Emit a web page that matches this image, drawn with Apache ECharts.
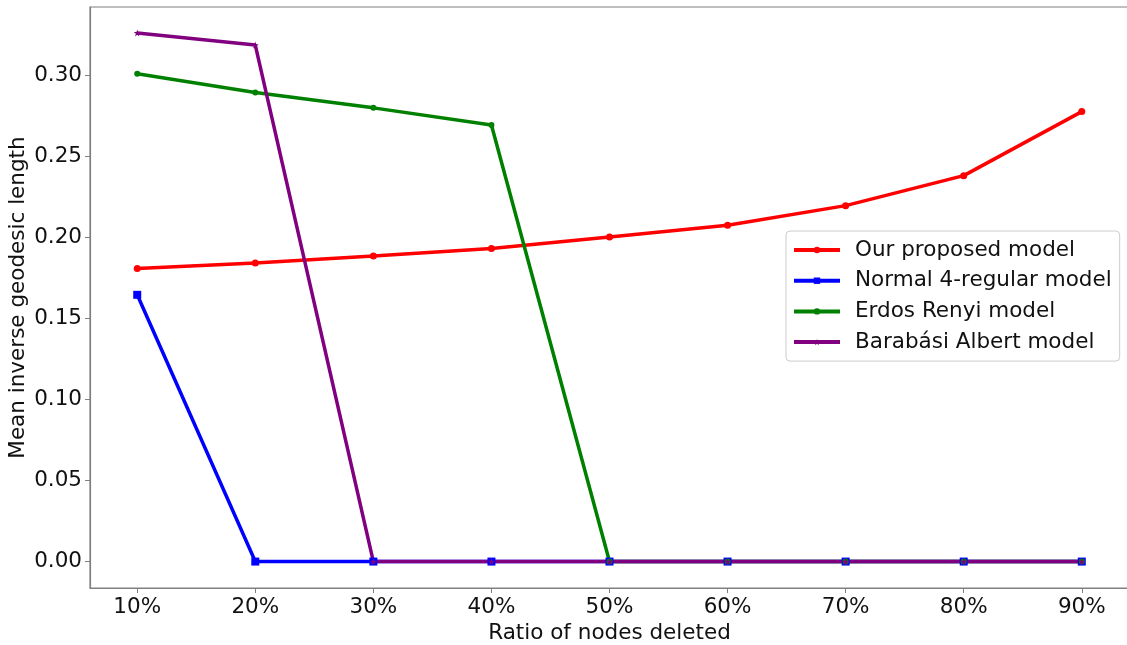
<!DOCTYPE html>
<html><head><meta charset="utf-8">
<script src="https://cdn.jsdelivr.net/npm/echarts@6/dist/echarts.min.js"></script>
<style>html,body{margin:0;padding:0;background:#fff}#c{width:1127px;height:645px}</style>
</head><body><div id="c"></div>
<script>
const ratios = [10, 20, 30, 40, 50, 60, 70, 80, 90];
const ourModel = [0.1808, 0.1842, 0.1885, 0.1930, 0.2002, 0.2074, 0.2195, 0.2380, 0.2775];
const regular4 = [0.1645, 0, 0, 0, 0, 0, 0, 0, 0];
const erdosRenyi = [0.3008, 0.2893, 0.2798, 0.2692, 0, 0, 0, 0, 0];
const barabasi = [0.3260, 0.3185, 0, 0, 0, 0, 0, 0, 0];
const yTicks = [0, 0.05, 0.10, 0.15, 0.20, 0.25, 0.30];
const names = ['Our proposed model', 'Normal 4-regular model', 'Erdos Renyi model', 'Barabási Albert model'];

const F = 'DejaVu Sans';
const pairs = arr => ratios.map((r, i) => [r, arr[i]]);
function mk(name, arr, color, symbol, size) {
  return {
    name, type: 'line', data: pairs(arr), symbol, symbolSize: size,
    showSymbol: true, animation: false,
    lineStyle: { color, width: 3.5 }, itemStyle: { color, borderWidth: 0 },
    emphasis: { disabled: true }, z: 3
  };
}
const chart = echarts.init(document.getElementById('c'), null, { renderer: 'canvas' });
chart.setOption({
  animation: false,
  grid: { left: 90, top: 7, width: 1039, height: 581, outerBoundsMode: 'none', containLabel: false,
          show: true, borderColor: '#808080', borderWidth: 1.2, backgroundColor: 'transparent' },
  legend: {
    orient: 'vertical', left: 786, top: 231, data: names,
    itemWidth: 46, itemHeight: 8, itemGap: 8.7,
    padding: [8, 8, 8, 6],
    borderColor: '#cccccc', borderWidth: 1, borderRadius: 4, backgroundColor: '#fff',
    lineStyle: { width: 4 },
    textStyle: { fontFamily: F, fontSize: 21.5, color: '#111', padding: [0, 0, 0, 10] }
  },
  xAxis: {
    type: 'value', min: 6, max: 94, name: 'Ratio of nodes deleted', nameLocation: 'middle', nameGap: 34,
    nameMoveOverlap: false,
    nameTextStyle: { fontFamily: F, fontSize: 21.5, color: '#111' },
    axisLine: { show: true, onZero: false, lineStyle: { color: '#808080', width: 1.2 } },
    axisTick: { show: true, length: 5, lineStyle: { color: '#808080' }, customValues: ratios },
    axisLabel: { fontFamily: F, fontSize: 21.5, color: '#111', margin: 8, customValues: ratios, formatter: v => v + '%' },
    splitLine: { show: false }
  },
  yAxis: {
    type: 'value', min: -0.0163, max: 0.342, name: 'Mean inverse geodesic length', nameLocation: 'middle', nameGap: 61,
    nameMoveOverlap: false,
    nameTextStyle: { fontFamily: F, fontSize: 21.5, color: '#111' },
    axisLine: { show: true, onZero: false, lineStyle: { color: '#808080', width: 1.2 } },
    axisTick: { show: true, length: 5, lineStyle: { color: '#808080' }, customValues: yTicks },
    axisLabel: { fontFamily: F, fontSize: 21.5, color: '#111', margin: 8, customValues: yTicks, formatter: v => v.toFixed(2) },
    splitLine: { show: false }
  },
  series: [
    mk(names[0], ourModel, '#ff0000', 'circle', 7),
    mk(names[1], regular4, '#0000ff', 'rect', 8),
    mk(names[2], erdosRenyi, '#008000', 'circle', 6),
    mk(names[3], barabasi, '#800080', 'path://M0,-1L0.22,-0.31L0.95,-0.31L0.36,0.12L0.59,0.81L0,0.38L-0.59,0.81L-0.36,0.12L-0.95,-0.31L-0.22,-0.31Z', 7)
  ]
});
</script></body></html>
